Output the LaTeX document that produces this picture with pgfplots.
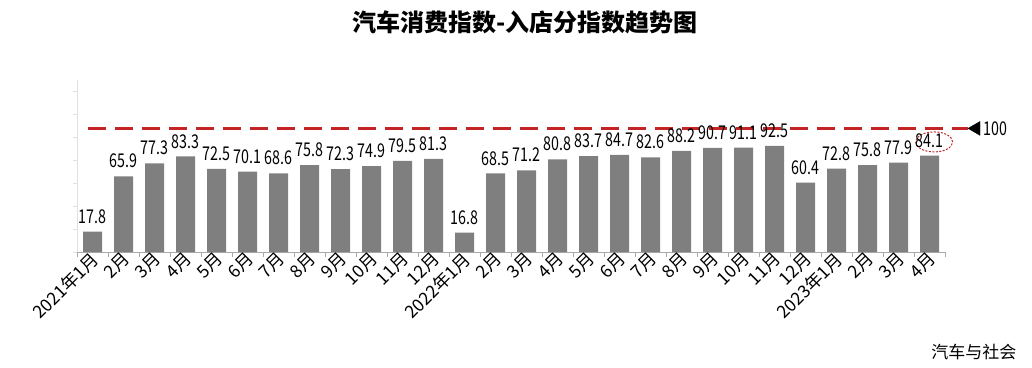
\documentclass[border=0pt]{standalone}
\usepackage{pgfplots}
\pgfplotsset{compat=1.18}
\usepackage{fontspec}
\setmainfont{Noto Sans CJK SC}
\newfontfamily\numfont{Noto Sans CJK SC}[FakeStretch=0.75]
\definecolor{bargray}{RGB}{127,127,127}
\definecolor{dashred}{RGB}{196,36,36}
\definecolor{ellred}{RGB}{190,40,40}
\definecolor{axgray}{RGB}{170,170,170}
\definecolor{yaxgray}{RGB}{225,225,225}
\begin{document}
\begin{tikzpicture}
\useasboundingbox (0,0) rectangle (1032pt,367pt);
\begin{axis}[
  at={(77pt,115pt)}, anchor=south west,
  scale only axis, width=868pt, height=172pt,
  xmin=-0.5, xmax=27.5, ymin=0, ymax=150,
  axis x line=bottom, axis y line=left,
  x axis line style={-, draw=axgray, line width=0.8pt},
  y axis line style={-, draw=yaxgray, line width=0.8pt},
  clip=false,
  tick align=outside,
  xtick={0,...,27},
  xticklabels={2021年1月,2月,3月,4月,5月,6月,7月,8月,9月,10月,11月,12月,2022年1月,2月,3月,4月,5月,6月,7月,8月,9月,10月,11月,12月,2023年1月,2月,3月,4月},
  major x tick style={draw=none},
  minor xtick={-0.5,0.5,...,27.5},
  minor x tick style={draw=axgray, line width=0.8pt},
  minor tick length=5pt,
  ytick={0,20,...,140},
  yticklabels={},
  major y tick style={draw=yaxgray, line width=0.8pt},
  major tick length=4pt,
  xticklabel style={rotate=45, anchor=east, font=\fontsize{17.5}{17.5}\selectfont, inner sep=1pt, xshift=3pt, yshift=-2pt},
  /pgf/number format/assume math mode=true,
]
\addplot[ybar, bar width=19pt, fill=bargray, draw=none,
  nodes near coords={\pgfmathprintnumber[fixed,fixed zerofill,precision=1]{\pgfplotspointmeta}},
  nodes near coords style={font=\numfont\fontsize{19}{19}\selectfont, anchor=south, inner sep=1pt, yshift=7pt, text=black}]
coordinates {
(0,17.8) (1,65.9) (2,77.3) (3,83.3) (4,72.5) (5,70.1) (6,68.6) (7,75.8) (8,72.3) (9,74.9) (10,79.5) (11,81.3)
(12,16.8) (13,68.5) (14,71.2) (15,80.8) (16,83.7) (17,84.7) (18,82.6) (19,88.2) (20,90.7) (21,91.1) (22,92.5) (23,60.4)
(24,72.8) (25,75.8) (26,77.9) (27,84.1)};
\addplot[dashred, line width=2.6pt, dash pattern=on 18pt off 9pt, forget plot] coordinates {(-0.15,107.8) (28.24,107.8)};
\addplot[black, only marks, mark=triangle*, mark size=8pt, mark options={rotate=90, fill=black}] coordinates {(28.5,107.8)};
\node[anchor=west, font=\numfont\fontsize{19}{19}\selectfont, inner sep=0pt] at (axis cs:28.73,107.8) {100};
\draw[ellred, line width=1pt, dash pattern=on 2pt off 1.5pt] (axis cs:27.15,96.0) ellipse [x radius=18.5pt, y radius=10pt];
\end{axis}
\node[font=\bfseries\fontsize{24}{24}\selectfont] at (525pt,345pt) {汽车消费指数-入店分指数趋势图};
\node[font=\fontsize{17}{17}\selectfont, anchor=east] at (1020pt,15pt) {汽车与社会};
\end{tikzpicture}
\end{document}
